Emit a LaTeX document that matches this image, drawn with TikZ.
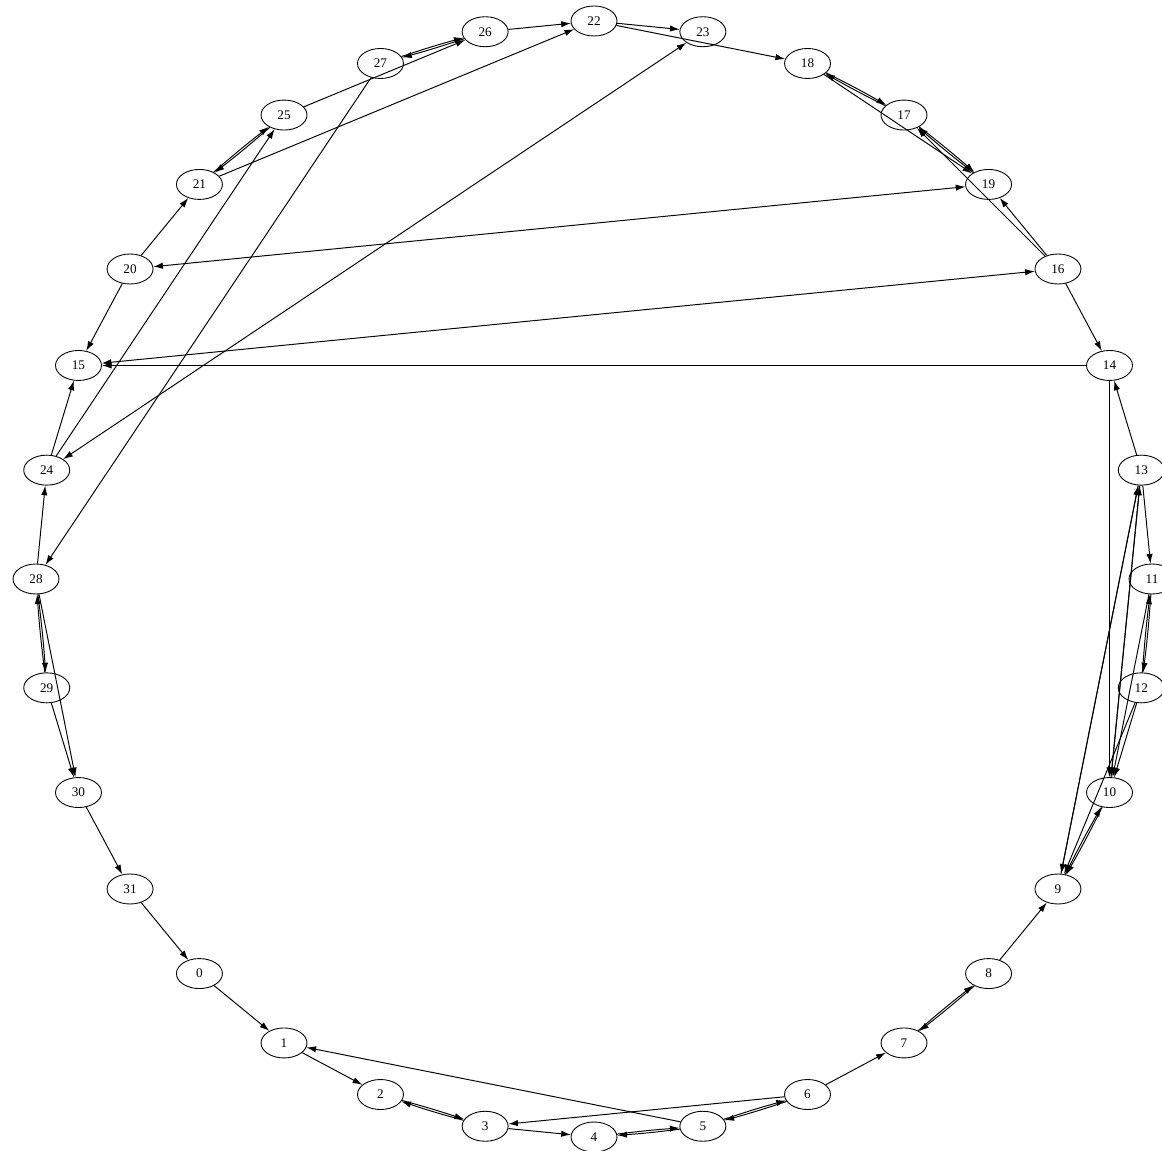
\documentclass[tikz,border=0pt]{standalone}
\usepackage{fontspec}
\setmainfont{Liberation Serif}
\usetikzlibrary{shapes.geometric,arrows.meta}

\tikzset{
  vertex/.style={draw, ellipse, minimum width=0.92cm, minimum height=0.6cm, inner sep=0pt, line width=0.5pt, font=\fontsize{7.5}{9}\selectfont},
  edge/.style={-{Latex[length=5.5pt,width=3.6pt]}, line width=0.55pt},
  twoway/.style={{Latex[length=5.5pt,width=3.6pt]}-{Latex[length=5.5pt,width=3.6pt]}, line width=0.55pt},
}

\begin{document}
\begin{tikzpicture}[x=0.02cm, y=-0.02cm]
  \useasboundingbox (0,0) rectangle (1162,1151);

  % Nodes round the circle, clockwise from the top
  \foreach \v [count=\k from 0] in {22,23,18,17,19,16,14,13,11,12,10,9,8,7,6,5,4,3,2,1,0,31,30,29,28,24,15,20,21,25,27,26}
    \node[vertex] (n\v) at ({594+558*sin(\k*11.25)}, {579-558*cos(\k*11.25)}) {\v};

  % One-way edges
  \foreach \a/\b in {26/22, 22/23, 22/18, 25/26, 21/22, 20/21, 20/15, 14/15,
                     24/15, 24/25, 27/28, 28/24, 29/30, 28/30, 30/31, 31/0,
                     0/1, 1/2, 3/4, 6/7, 8/9, 5/1, 6/3, 18/19, 16/17, 16/19,
                     16/14, 13/14, 13/11, 14/10, 13/10, 13/9, 9/13, 10/13,
                     12/10, 11/10, 12/9}
    \draw[edge] (n\a) -- (n\b);

  % Short edges both ways
  \foreach \a/\b in {27/26, 21/25, 28/29, 2/3, 4/5, 5/6, 7/8, 18/17, 17/19, 11/12, 10/9}
  {
    \draw[edge] (n\a) to[bend left=1.5] (n\b);
    \draw[edge] (n\b) to[bend left=1.5] (n\a);
  }

  % Long edges both ways
  \foreach \a/\b in {19/20, 15/16, 23/24}
    \draw[twoway] (n\a) -- (n\b);
\end{tikzpicture}
\end{document}
